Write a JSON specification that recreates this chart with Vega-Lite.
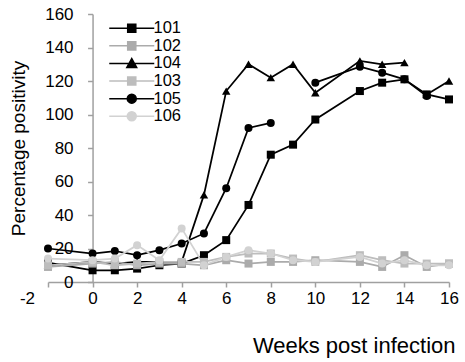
{
  "$schema": "https://vega.github.io/schema/vega-lite/v6.json",
  "width": 401,
  "height": 268,
  "autosize": "none",
  "padding": {"left": 48, "top": 14, "right": 16, "bottom": 80},
  "background": "white",
  "config": {
    "view": {"stroke": null},
    "font": "Liberation Sans",
    "axis": {
      "domainColor": "#a0a0a0",
      "domainWidth": 1.5,
      "tickColor": "#a0a0a0",
      "tickWidth": 1.5,
      "tickSize": 5,
      "grid": false,
      "labelColor": "#000000",
      "titleColor": "#000000",
      "labelFont": "Liberation Sans",
      "titleFont": "Liberation Sans",
      "labelFontSize": 17,
      "titleFontSize": 19,
      "titleFontWeight": "normal"
    }
  },
  "data": {
    "values": [
      {"id": "101", "week": -2, "v": 11.5, "seg": "a"},
      {"id": "101", "week": 0, "v": 7, "seg": "a"},
      {"id": "101", "week": 1, "v": 7, "seg": "a"},
      {"id": "101", "week": 2, "v": 8, "seg": "a"},
      {"id": "101", "week": 3, "v": 10, "seg": "a"},
      {"id": "101", "week": 4, "v": 11, "seg": "a"},
      {"id": "101", "week": 5, "v": 16, "seg": "a"},
      {"id": "101", "week": 6, "v": 25, "seg": "a"},
      {"id": "101", "week": 7, "v": 46, "seg": "a"},
      {"id": "101", "week": 8, "v": 76, "seg": "a"},
      {"id": "101", "week": 9, "v": 82, "seg": "a"},
      {"id": "101", "week": 10, "v": 97, "seg": "a"},
      {"id": "101", "week": 12, "v": 114, "seg": "a"},
      {"id": "101", "week": 13, "v": 119, "seg": "a"},
      {"id": "101", "week": 14, "v": 121, "seg": "a"},
      {"id": "101", "week": 15, "v": 112, "seg": "a"},
      {"id": "101", "week": 16, "v": 109, "seg": "a"},

      {"id": "104", "week": -2, "v": 10, "seg": "a"},
      {"id": "104", "week": 0, "v": 12, "seg": "a"},
      {"id": "104", "week": 1, "v": 11, "seg": "a"},
      {"id": "104", "week": 2, "v": 12, "seg": "a"},
      {"id": "104", "week": 3, "v": 12, "seg": "a"},
      {"id": "104", "week": 4, "v": 12, "seg": "a"},
      {"id": "104", "week": 5, "v": 52, "seg": "a"},
      {"id": "104", "week": 6, "v": 114, "seg": "a"},
      {"id": "104", "week": 7, "v": 130, "seg": "a"},
      {"id": "104", "week": 8, "v": 122, "seg": "a"},
      {"id": "104", "week": 9, "v": 130, "seg": "a"},
      {"id": "104", "week": 10, "v": 113, "seg": "a"},
      {"id": "104", "week": 12, "v": 132, "seg": "a"},
      {"id": "104", "week": 13, "v": 130, "seg": "a"},
      {"id": "104", "week": 14, "v": 131, "seg": "a"},
      {"id": "104", "week": 15, "v": 112, "seg": "b"},
      {"id": "104", "week": 16, "v": 120, "seg": "b"},

      {"id": "105", "week": -2, "v": 20, "seg": "a"},
      {"id": "105", "week": 0, "v": 17, "seg": "a"},
      {"id": "105", "week": 1, "v": 18.5, "seg": "a"},
      {"id": "105", "week": 2, "v": 16, "seg": "a"},
      {"id": "105", "week": 3, "v": 19, "seg": "a"},
      {"id": "105", "week": 4, "v": 23, "seg": "a"},
      {"id": "105", "week": 5, "v": 29, "seg": "a"},
      {"id": "105", "week": 6, "v": 56, "seg": "a"},
      {"id": "105", "week": 7, "v": 92, "seg": "a"},
      {"id": "105", "week": 8, "v": 95, "seg": "a"},
      {"id": "105", "week": 10, "v": 119, "seg": "b"},
      {"id": "105", "week": 12, "v": 128.5, "seg": "b"},
      {"id": "105", "week": 13, "v": 125, "seg": "b"},
      {"id": "105", "week": 14, "v": 121, "seg": "b"},
      {"id": "105", "week": 15, "v": 111, "seg": "b"},

      {"id": "102", "week": -2, "v": 9, "seg": "a"},
      {"id": "102", "week": 0, "v": 11, "seg": "a"},
      {"id": "102", "week": 1, "v": 12, "seg": "a"},
      {"id": "102", "week": 2, "v": 10, "seg": "a"},
      {"id": "102", "week": 3, "v": 11, "seg": "a"},
      {"id": "102", "week": 4, "v": 11, "seg": "a"},
      {"id": "102", "week": 5, "v": 10, "seg": "a"},
      {"id": "102", "week": 6, "v": 13, "seg": "a"},
      {"id": "102", "week": 7, "v": 11, "seg": "a"},
      {"id": "102", "week": 8, "v": 12, "seg": "a"},
      {"id": "102", "week": 9, "v": 12, "seg": "a"},
      {"id": "102", "week": 10, "v": 13, "seg": "a"},
      {"id": "102", "week": 12, "v": 12, "seg": "a"},
      {"id": "102", "week": 13, "v": 9, "seg": "a"},
      {"id": "102", "week": 14, "v": 16, "seg": "a"},
      {"id": "102", "week": 15, "v": 9, "seg": "a"},
      {"id": "102", "week": 16, "v": 11, "seg": "a"},

      {"id": "103", "week": -2, "v": 10, "seg": "a"},
      {"id": "103", "week": 0, "v": 12, "seg": "a"},
      {"id": "103", "week": 1, "v": 10, "seg": "a"},
      {"id": "103", "week": 2, "v": 11, "seg": "a"},
      {"id": "103", "week": 3, "v": 12, "seg": "a"},
      {"id": "103", "week": 4, "v": 12, "seg": "a"},
      {"id": "103", "week": 5, "v": 12, "seg": "a"},
      {"id": "103", "week": 6, "v": 15, "seg": "a"},
      {"id": "103", "week": 7, "v": 17, "seg": "a"},
      {"id": "103", "week": 8, "v": 17, "seg": "a"},
      {"id": "103", "week": 9, "v": 14, "seg": "a"},
      {"id": "103", "week": 10, "v": 12, "seg": "a"},
      {"id": "103", "week": 12, "v": 16, "seg": "a"},
      {"id": "103", "week": 13, "v": 13, "seg": "a"},
      {"id": "103", "week": 14, "v": 11, "seg": "a"},
      {"id": "103", "week": 15, "v": 11, "seg": "a"},
      {"id": "103", "week": 16, "v": 11, "seg": "a"},

      {"id": "106", "week": -2, "v": 14, "seg": "a"},
      {"id": "106", "week": 0, "v": 13, "seg": "a"},
      {"id": "106", "week": 1, "v": 14, "seg": "a"},
      {"id": "106", "week": 2, "v": 22, "seg": "a"},
      {"id": "106", "week": 3, "v": 13, "seg": "a"},
      {"id": "106", "week": 4, "v": 32, "seg": "a"},
      {"id": "106", "week": 5, "v": 10, "seg": "a"},
      {"id": "106", "week": 6, "v": 15, "seg": "a"},
      {"id": "106", "week": 7, "v": 19, "seg": "a"},
      {"id": "106", "week": 8, "v": 17, "seg": "a"},
      {"id": "106", "week": 9, "v": 13, "seg": "a"},
      {"id": "106", "week": 10, "v": 12, "seg": "a"},
      {"id": "106", "week": 12, "v": 15, "seg": "a"},
      {"id": "106", "week": 13, "v": 11, "seg": "a"},
      {"id": "106", "week": 14, "v": 13, "seg": "a"},
      {"id": "106", "week": 15, "v": 10, "seg": "a"},
      {"id": "106", "week": 16, "v": 10, "seg": "a"}
    ]
  },
  "encoding": {
    "x": {
      "field": "week",
      "type": "quantitative",
      "scale": {"domain": [-2, 16], "nice": false, "zero": false},
      "axis": {
        "values": [-2, 0, 2, 4, 6, 8, 10, 12, 14, 16],
        "labelExpr": "datum.value == -2 ? '-2' : datum.label",
        "title": "Weeks post infection",
        "titleFontSize": 22,
        "titleX": 407,
        "titleY": 70,
        "titleAlign": "right",
        "titleBaseline": "alphabetic",
        "labelPadding": 3,
        "labelOffset": {"condition": {"test": "datum.value == -2", "value": -21}, "value": 0},
        "labelFlush": false,
        "labelOverlap": false
      }
    },
    "y": {
      "field": "v",
      "type": "quantitative",
      "scale": {"domain": [0, 160], "nice": false},
      "axis": {
        "values": [0, 20, 40, 60, 80, 100, 120, 140, 160],
        "title": "Percentage positivity",
        "offset": -44.56,
        "labelPadding": 14.5,
        "titleX": -74.5,
        "titleY": 134,
        "titleAngle": -90,
        "titleAlign": "center",
        "titleBaseline": "middle",
        "labelFlush": false,
        "labelOverlap": false
      }
    },
    "color": {
      "field": "id",
      "type": "nominal",
      "scale": {
        "domain": ["101", "102", "104", "103", "105", "106"],
        "range": ["#000000", "#ababab", "#000000", "#bdbdbd", "#000000", "#d2d2d2"]
      },
      "legend": {
        "title": null,
        "orient": "none",
        "legendX": 75.5,
        "legendY": 6,
        "padding": 0,
        "labelFont": "Liberation Sans",
        "labelFontSize": 16.5,
        "labelColor": "#000000",
        "symbolSize": 81,
        "labelOffset": 13.5,
        "rowPadding": 0.6,
        "symbolStrokeWidth": 1.5,
        "symbolOpacity": 1,
        "symbolType": {"expr": "datum.value === '104' ? 'M-5,0H5M0,-1.1L1.1,0.9H-1.1Z' : (datum.value === '105' || datum.value === '106') ? 'M-5,0H5M1,0A1,1,0,1,1,-1,0A1,1,0,1,1,1,0Z' : 'M-5,0H5M-0.9,-0.9H0.9V0.9H-0.9Z'"},
        "symbolStrokeColor": {"expr": "scale('color', datum.value)"},
        "symbolFillColor": {"expr": "scale('color', datum.value)"}
      }
    }
  },
  "layer": [
    {
      "mark": {"type": "line", "strokeWidth": 1.75},
      "encoding": {
        "detail": {"field": "seg", "type": "nominal"}
      }
    },
    {
      "transform": [{"filter": "datum.id === '104'"}],
      "mark": {"type": "point", "filled": true, "size": 72, "opacity": 1, "shape": "triangle-up"}
    },
    {
      "transform": [{"filter": "datum.id === '101' || datum.id === '102' || datum.id === '103'"}],
      "mark": {"type": "point", "filled": true, "size": 64, "opacity": 1, "shape": "square"}
    },
    {
      "transform": [{"filter": "datum.id === '105' || datum.id === '106'"}],
      "mark": {"type": "point", "filled": true, "size": 64, "opacity": 1, "shape": "circle"}
    }
  ]
}
